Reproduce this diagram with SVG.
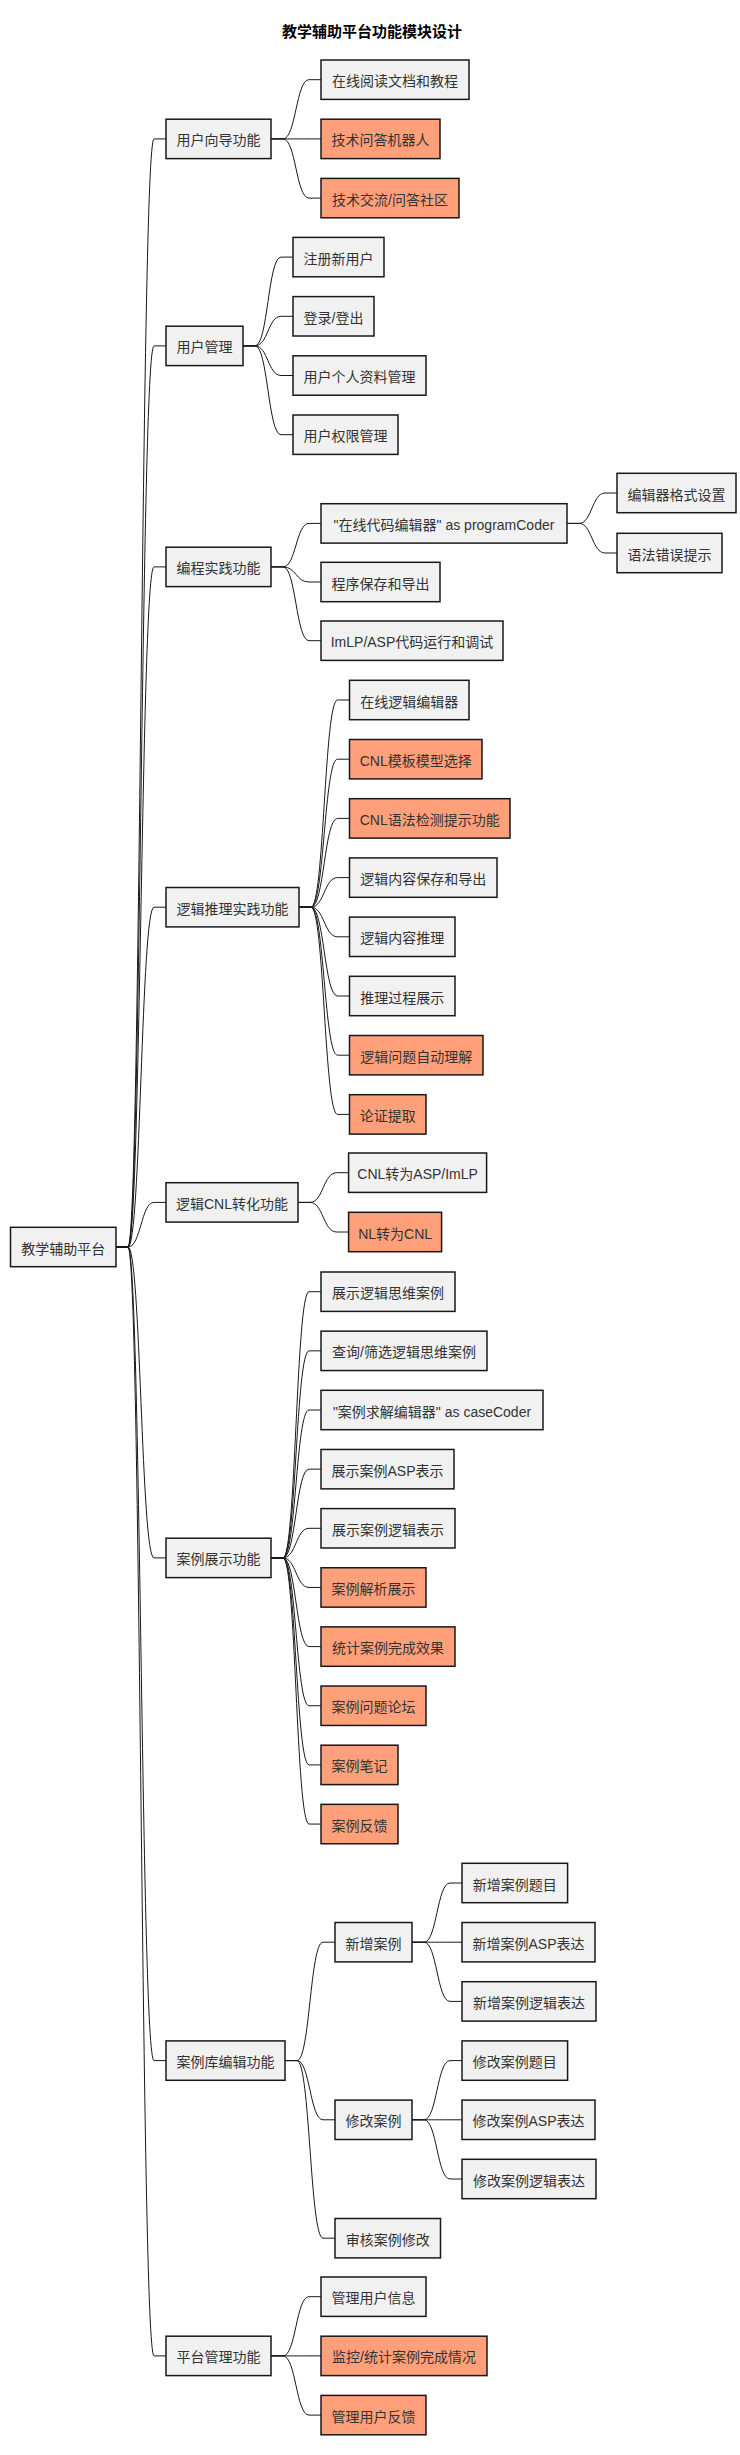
<svg xmlns="http://www.w3.org/2000/svg" width="740" height="2455" viewBox="0 0 740 2455">
<style>
.box{fill:#F1F1F1;stroke:#181818;stroke-width:1.5}
.hl{fill:#FFA07A}
.t{font-family:"Liberation Sans","Noto Sans CJK SC",sans-serif;font-size:14px;fill:#333;text-anchor:middle}
.title{font-family:"Liberation Serif","Noto Sans CJK SC",serif;font-size:15px;font-weight:bold;fill:#000;text-anchor:middle}
.link{fill:none;stroke:#181818;stroke-width:1}
</style>
<rect width="740" height="2455" fill="#FFFFFF"/>
<text class="title" x="372" y="37">教学辅助平台功能模块设计</text>
<g id="connectors">
<path class="link" d="M116,1247 H128 C141,1247 141,138.9 154,138.9 H166"/>
<path class="link" d="M116,1247 H128 C141,1247 141,345.9 154,345.9 H166"/>
<path class="link" d="M116,1247 H128 C141,1247 141,566.9 154,566.9 H166"/>
<path class="link" d="M116,1247 H128 C141,1247 141,907.2 154,907.2 H166"/>
<path class="link" d="M116,1247 H128 C141,1247 141,1202.4 154,1202.4 H166"/>
<path class="link" d="M116,1247 H128 C141,1247 141,1557.9 154,1557.9 H166"/>
<path class="link" d="M116,1247 H128 C141,1247 141,2060.6 154,2060.6 H166"/>
<path class="link" d="M116,1247 H128 C141,1247 141,2355.9 154,2355.9 H166"/>
<path class="link" d="M271,138.9 H283 C296,138.9 296,79.7 309,79.7 H321"/>
<path class="link" d="M271,138.9 H283 C296,138.9 296,138.9 309,138.9 H321"/>
<path class="link" d="M271,138.9 H283 C296,138.9 296,198.1 309,198.1 H321"/>
<path class="link" d="M243,345.9 H255 C268,345.9 268,257.1 281,257.1 H293"/>
<path class="link" d="M243,345.9 H255 C268,345.9 268,316.3 281,316.3 H293"/>
<path class="link" d="M243,345.9 H255 C268,345.9 268,375.5 281,375.5 H293"/>
<path class="link" d="M243,345.9 H255 C268,345.9 268,434.7 281,434.7 H293"/>
<path class="link" d="M271,566.9 H283 C296,566.9 296,523.4 309,523.4 H321"/>
<path class="link" d="M271,566.9 H283 C296,566.9 296,582 309,582 H321"/>
<path class="link" d="M271,566.9 H283 C296,566.9 296,640.7 309,640.7 H321"/>
<path class="link" d="M567,523.4 H579 C592,523.4 592,493 605,493 H617"/>
<path class="link" d="M567,523.4 H579 C592,523.4 592,553 605,553 H617"/>
<path class="link" d="M299,907.2 H311 C324.25,907.2 324.25,700 337.5,700 H349.5"/>
<path class="link" d="M299,907.2 H311 C324.25,907.2 324.25,759.2 337.5,759.2 H349.5"/>
<path class="link" d="M299,907.2 H311 C324.25,907.2 324.25,818.4 337.5,818.4 H349.5"/>
<path class="link" d="M299,907.2 H311 C324.25,907.2 324.25,877.6 337.5,877.6 H349.5"/>
<path class="link" d="M299,907.2 H311 C324.25,907.2 324.25,936.8 337.5,936.8 H349.5"/>
<path class="link" d="M299,907.2 H311 C324.25,907.2 324.25,996 337.5,996 H349.5"/>
<path class="link" d="M299,907.2 H311 C324.25,907.2 324.25,1055.2 337.5,1055.2 H349.5"/>
<path class="link" d="M299,907.2 H311 C324.25,907.2 324.25,1114.4 337.5,1114.4 H349.5"/>
<path class="link" d="M298,1202.4 H310 C323.3,1202.4 323.3,1172.7 336.6,1172.7 H348.6"/>
<path class="link" d="M298,1202.4 H310 C323.3,1202.4 323.3,1232 336.6,1232 H348.6"/>
<path class="link" d="M271,1557.9 H283 C296,1557.9 296,1291.7 309,1291.7 H321"/>
<path class="link" d="M271,1557.9 H283 C296,1557.9 296,1350.85 309,1350.85 H321"/>
<path class="link" d="M271,1557.9 H283 C296,1557.9 296,1410 309,1410 H321"/>
<path class="link" d="M271,1557.9 H283 C296,1557.9 296,1469.15 309,1469.15 H321"/>
<path class="link" d="M271,1557.9 H283 C296,1557.9 296,1528.3 309,1528.3 H321"/>
<path class="link" d="M271,1557.9 H283 C296,1557.9 296,1587.45 309,1587.45 H321"/>
<path class="link" d="M271,1557.9 H283 C296,1557.9 296,1646.6 309,1646.6 H321"/>
<path class="link" d="M271,1557.9 H283 C296,1557.9 296,1705.75 309,1705.75 H321"/>
<path class="link" d="M271,1557.9 H283 C296,1557.9 296,1764.9 309,1764.9 H321"/>
<path class="link" d="M271,1557.9 H283 C296,1557.9 296,1824.05 309,1824.05 H321"/>
<path class="link" d="M285,2060.6 H297 C310,2060.6 310,1942.2 323,1942.2 H335"/>
<path class="link" d="M285,2060.6 H297 C310,2060.6 310,2119.8 323,2119.8 H335"/>
<path class="link" d="M285,2060.6 H297 C310,2060.6 310,2238.2 323,2238.2 H335"/>
<path class="link" d="M412,1942.2 H424 C437,1942.2 437,1883 450,1883 H462"/>
<path class="link" d="M412,1942.2 H424 C437,1942.2 437,1942.2 450,1942.2 H462"/>
<path class="link" d="M412,1942.2 H424 C437,1942.2 437,2001.4 450,2001.4 H462"/>
<path class="link" d="M412,2119.8 H424 C437,2119.8 437,2060.6 450,2060.6 H462"/>
<path class="link" d="M412,2119.8 H424 C437,2119.8 437,2119.8 450,2119.8 H462"/>
<path class="link" d="M412,2119.8 H424 C437,2119.8 437,2179 450,2179 H462"/>
<path class="link" d="M271,2355.9 H283 C296,2355.9 296,2296.7 309,2296.7 H321"/>
<path class="link" d="M271,2355.9 H283 C296,2355.9 296,2355.9 309,2355.9 H321"/>
<path class="link" d="M271,2355.9 H283 C296,2355.9 296,2415.1 309,2415.1 H321"/>
</g>
<g id="root"><rect class="box" x="10.5" y="1227.3" width="105.5" height="39.4"/><text class="t" x="63.25" y="1253.5">教学辅助平台</text></g>
<g id="n1"><rect class="box" x="166" y="119.2" width="105" height="39.4"/><text class="t" x="218.5" y="145.4">用户向导功能</text></g>
<g id="n1a"><rect class="box" x="321" y="60" width="148" height="39.4"/><text class="t" x="395" y="86.2">在线阅读文档和教程</text></g>
<g id="n1b"><rect class="box hl" x="321" y="119.2" width="119" height="39.4"/><text class="t" x="380.5" y="145.4">技术问答机器人</text></g>
<g id="n1c"><rect class="box hl" x="321" y="178.4" width="138" height="39.4"/><text class="t" x="390" y="204.6">技术交流/问答社区</text></g>
<g id="n2"><rect class="box" x="166" y="326.2" width="77" height="39.4"/><text class="t" x="204.5" y="352.4">用户管理</text></g>
<g id="n2a"><rect class="box" x="293" y="237.4" width="91" height="39.4"/><text class="t" x="338.5" y="263.6">注册新用户</text></g>
<g id="n2b"><rect class="box" x="293" y="296.6" width="81" height="39.4"/><text class="t" x="333.5" y="322.8">登录/登出</text></g>
<g id="n2c"><rect class="box" x="293" y="355.8" width="133" height="39.4"/><text class="t" x="359.5" y="382">用户个人资料管理</text></g>
<g id="n2d"><rect class="box" x="293" y="415" width="105" height="39.4"/><text class="t" x="345.5" y="441.2">用户权限管理</text></g>
<g id="n3"><rect class="box" x="166" y="547.2" width="105" height="39.4"/><text class="t" x="218.5" y="573.4">编程实践功能</text></g>
<g id="n3a"><rect class="box" x="321" y="503.7" width="246" height="39.4"/><text class="t" x="444" y="529.9">"在线代码编辑器" as programCoder</text></g>
<g id="n3a1"><rect class="box" x="617" y="473.3" width="119" height="39.4"/><text class="t" x="676.5" y="499.5">编辑器格式设置</text></g>
<g id="n3a2"><rect class="box" x="617" y="533.3" width="105" height="39.4"/><text class="t" x="669.5" y="559.5">语法错误提示</text></g>
<g id="n3b"><rect class="box" x="321" y="562.3" width="119" height="39.4"/><text class="t" x="380.5" y="588.5">程序保存和导出</text></g>
<g id="n3c"><rect class="box" x="321" y="621" width="182" height="39.4"/><text class="t" x="412" y="647.2">ImLP/ASP代码运行和调试</text></g>
<g id="n4"><rect class="box" x="166" y="887.5" width="133" height="39.4"/><text class="t" x="232.5" y="913.7">逻辑推理实践功能</text></g>
<g id="n4a"><rect class="box" x="349.5" y="680.3" width="119.5" height="39.4"/><text class="t" x="409.25" y="706.5">在线逻辑编辑器</text></g>
<g id="n4b"><rect class="box hl" x="349.5" y="739.5" width="132.5" height="39.4"/><text class="t" x="415.75" y="765.7">CNL模板模型选择</text></g>
<g id="n4c"><rect class="box hl" x="349.5" y="798.7" width="160.5" height="39.4"/><text class="t" x="429.75" y="824.9">CNL语法检测提示功能</text></g>
<g id="n4d"><rect class="box" x="349.5" y="857.9" width="147.5" height="39.4"/><text class="t" x="423.25" y="884.1">逻辑内容保存和导出</text></g>
<g id="n4e"><rect class="box" x="349.5" y="917.1" width="105.5" height="39.4"/><text class="t" x="402.25" y="943.3">逻辑内容推理</text></g>
<g id="n4f"><rect class="box" x="349.5" y="976.3" width="105.5" height="39.4"/><text class="t" x="402.25" y="1002.5">推理过程展示</text></g>
<g id="n4g"><rect class="box hl" x="349.5" y="1035.5" width="133.5" height="39.4"/><text class="t" x="416.25" y="1061.7">逻辑问题自动理解</text></g>
<g id="n4h"><rect class="box hl" x="349.5" y="1094.7" width="76.5" height="39.4"/><text class="t" x="387.75" y="1120.9">论证提取</text></g>
<g id="n5"><rect class="box" x="166" y="1182.7" width="132" height="39.4"/><text class="t" x="232" y="1208.9">逻辑CNL转化功能</text></g>
<g id="n5a"><rect class="box" x="348.6" y="1153" width="138" height="39.4"/><text class="t" x="417.6" y="1179.2">CNL转为ASP/ImLP</text></g>
<g id="n5b"><rect class="box hl" x="348.6" y="1212.3" width="93" height="39.4"/><text class="t" x="395.1" y="1238.5">NL转为CNL</text></g>
<g id="n6"><rect class="box" x="166" y="1538.2" width="105" height="39.4"/><text class="t" x="218.5" y="1564.4">案例展示功能</text></g>
<g id="n6a"><rect class="box" x="321" y="1272" width="134" height="39.4"/><text class="t" x="388" y="1298.2">展示逻辑思维案例</text></g>
<g id="n6b"><rect class="box" x="321" y="1331.15" width="166" height="39.4"/><text class="t" x="404" y="1357.35">查询/筛选逻辑思维案例</text></g>
<g id="n6c"><rect class="box" x="321" y="1390.3" width="222" height="39.4"/><text class="t" x="432" y="1416.5">"案例求解编辑器" as caseCoder</text></g>
<g id="n6d"><rect class="box" x="321" y="1449.45" width="133" height="39.4"/><text class="t" x="387.5" y="1475.65">展示案例ASP表示</text></g>
<g id="n6e"><rect class="box" x="321" y="1508.6" width="134" height="39.4"/><text class="t" x="388" y="1534.8">展示案例逻辑表示</text></g>
<g id="n6f"><rect class="box hl" x="321" y="1567.75" width="105" height="39.4"/><text class="t" x="373.5" y="1593.95">案例解析展示</text></g>
<g id="n6g"><rect class="box hl" x="321" y="1626.9" width="134" height="39.4"/><text class="t" x="388" y="1653.1">统计案例完成效果</text></g>
<g id="n6h"><rect class="box hl" x="321" y="1686.05" width="105" height="39.4"/><text class="t" x="373.5" y="1712.25">案例问题论坛</text></g>
<g id="n6i"><rect class="box hl" x="321" y="1745.2" width="77" height="39.4"/><text class="t" x="359.5" y="1771.4">案例笔记</text></g>
<g id="n6j"><rect class="box hl" x="321" y="1804.35" width="77" height="39.4"/><text class="t" x="359.5" y="1830.55">案例反馈</text></g>
<g id="n7"><rect class="box" x="166" y="2040.9" width="119" height="39.4"/><text class="t" x="225.5" y="2067.1">案例库编辑功能</text></g>
<g id="n7a"><rect class="box" x="335" y="1922.5" width="77" height="39.4"/><text class="t" x="373.5" y="1948.7">新增案例</text></g>
<g id="n7a1"><rect class="box" x="462" y="1863.3" width="105.6" height="39.4"/><text class="t" x="514.8" y="1889.5">新增案例题目</text></g>
<g id="n7a2"><rect class="box" x="462" y="1922.5" width="133" height="39.4"/><text class="t" x="528.5" y="1948.7">新增案例ASP表达</text></g>
<g id="n7a3"><rect class="box" x="462" y="1981.7" width="134" height="39.4"/><text class="t" x="529" y="2007.9">新增案例逻辑表达</text></g>
<g id="n7b"><rect class="box" x="335" y="2100.1" width="77" height="39.4"/><text class="t" x="373.5" y="2126.3">修改案例</text></g>
<g id="n7b1"><rect class="box" x="462" y="2040.9" width="105.6" height="39.4"/><text class="t" x="514.8" y="2067.1">修改案例题目</text></g>
<g id="n7b2"><rect class="box" x="462" y="2100.1" width="133" height="39.4"/><text class="t" x="528.5" y="2126.3">修改案例ASP表达</text></g>
<g id="n7b3"><rect class="box" x="462" y="2159.3" width="134" height="39.4"/><text class="t" x="529" y="2185.5">修改案例逻辑表达</text></g>
<g id="n7c"><rect class="box" x="335" y="2218.5" width="105.5" height="39.4"/><text class="t" x="387.75" y="2244.7">审核案例修改</text></g>
<g id="n8"><rect class="box" x="166" y="2336.2" width="105" height="39.4"/><text class="t" x="218.5" y="2362.4">平台管理功能</text></g>
<g id="n8a"><rect class="box" x="321" y="2277" width="105" height="39.4"/><text class="t" x="373.5" y="2303.2">管理用户信息</text></g>
<g id="n8b"><rect class="box hl" x="321" y="2336.2" width="166" height="39.4"/><text class="t" x="404" y="2362.4">监控/统计案例完成情况</text></g>
<g id="n8c"><rect class="box hl" x="321" y="2395.4" width="105" height="39.4"/><text class="t" x="373.5" y="2421.6">管理用户反馈</text></g>
</svg>
